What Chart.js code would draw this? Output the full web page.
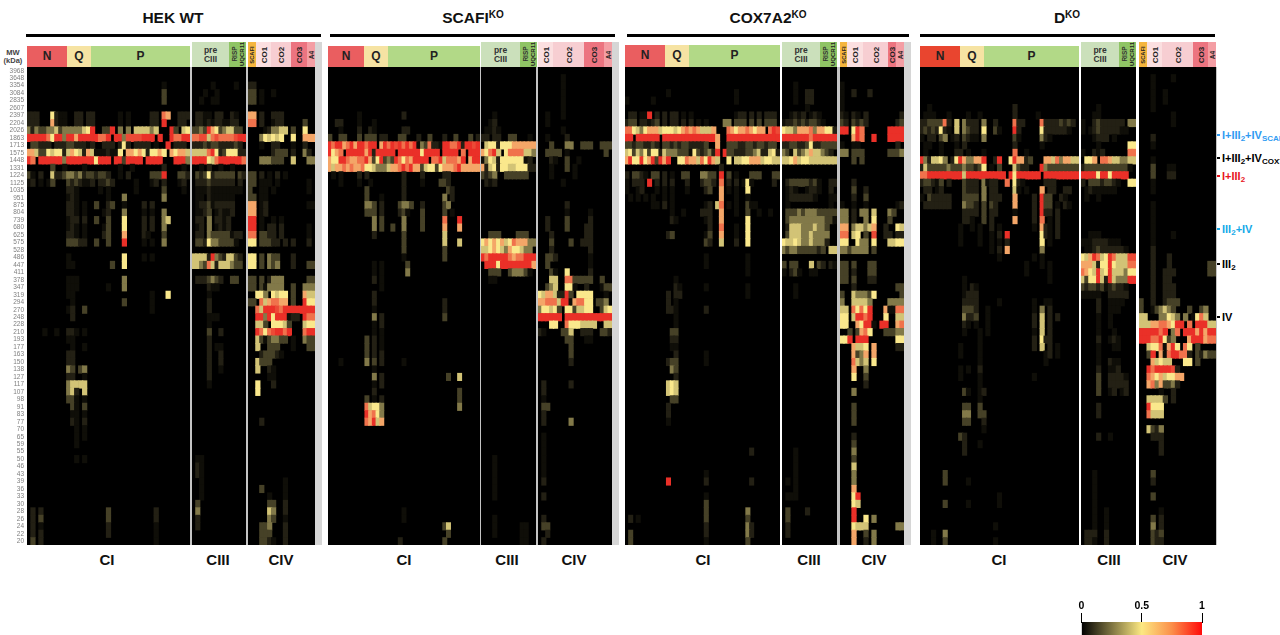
<!DOCTYPE html>
<html>
<head>
<meta charset="utf-8">
<script src="https://cdn.jsdelivr.net/npm/chart.js@4"></script>
<style>
html, body { margin: 0; padding: 0; background: #fff; overflow: hidden; }
#page { position: relative; width: 1280px; height: 635px; overflow: hidden; font-family: "Liberation Sans", Arial, sans-serif; }
#page div, #page canvas { position: absolute; }
.t { white-space: nowrap; transform: translate(-50%, -50%); text-align: center; line-height: 1.1; }
.v { white-space: nowrap; transform: translate(-50%, -50%) rotate(-90deg); }
.r { white-space: nowrap; font-weight: bold; font-size: 11px; transform: translateY(-50%); }
.r sub { font-size: 8px; vertical-align: -2px; line-height: 0; }
.t sup { font-size: 10px; vertical-align: 5px; line-height: 0; }
</style>
</head>
<body>
<div id="page"></div>
<script>
// MW ladder, one label per row of every heatmap
const mwLabels = ['3968','3648','3354','3084','2835','2607','2397','2204','2026','1863','1713','1575','1448','1331','1224','1125','1035','951','875','804','739','680','625','575','528','486','447','411','378','347','319','294','270','248','228','210','193','177','163','150','138','127','117','107','98','91','83','77','70','65','59','55','50','46','43','39','36','33','30','28','26','24','22','20'];

// intensity of each reading level used in the cell strings below (X = 1)
const levels = [0, 0.03, 0.07, 0.14, 0.26, 0.42, 0.5, 0.68, 0.82, 0.93];

// cells: "row col:levels col:levels", black cells left out
const hekCI = [
'2 34:1','3 34:3','4 34:3',
'6 0:222 6:6 7:211 12:22 15:22 23:1 25:1 31:22 34:87 38:222',
'7 0:222 6:7 7:211 12:22 15:22 23:1 25:1 31:22 34:X 38:22',
'8 0:4243344534444456X 19:33X 23:4 25:4 27:555545 36:X 37:3 39:56',
'9 0:XXXXX86XX4XX7XXXXX88X 22:XX49999XXX 33:X 36:X88XX',
'10 1:33222 7:222 10:3322 14:212 19:222 23:2 24:6 25:2 27:2222 32:1 35:X 37:222',
'11 0:775336566257652751112116 25:7767626676 36:76775',
'12 0:X80XXXXXX4XXXXXXX6XXX 22:XX3XXXX 30:XXXX 37:XXX4',
'13 6:3 9:1 14:1 23:1 26:1 34:2 39:1',
'14 0:31 3:2 6:5 7:223443 13:4 14:2332 18:3 19:3 20:2 23:1 25:2 31:333 34:X 38:332',
'15 0:12 3:1 5:1 6:3 10:3232 14:1 15:12 18:2 19:23 21:2 27:1 31:12 34:2 38:12',
'16 10:22 12:1 18:1 20:1 27:1 34:3 39:1','17 10:12 12:1 20:1 24:4 34:4',
'18 10:221 14:1 17:3 20:23 24:1 29:2 31:2','19 10:221 14:1 19:12 24:4 29:1 31:1 34:4',
'20 10:122 14:2 17:3 20:3 24:6 29:2 31:2 34:45','21 10:121 14:1 19:13 24:6 29:2 31:2 34:4',
'22 10:221 14:1 19:23 24:7 29:2 30:1 34:3','23 10:3332 14:2 17:3 20:3 24:X 29:1 31:1 34:4',
'25 10:1 24:6 29:1 31:1','26 10:11 21:3 24:6','28 10:111 24:4','29 10:11 12:1 20:1 24:4',
'30 10:11 31:1 35:6','31 11:1 24:3 31:1','32 10:12 14:3 31:1','33 11:2',
'35 4:1 7:1 10:221 14:1','36 10:11','37 11:1 14:1','38 10:22','39 10:22','40 10:43 13:34','41 10:22 14:1',
'42 10:45531 13:5 14:5','43 10:45 12:2 14:5','44 10:33 12:1 14:1','45 11:3 12:1 14:3','46 11:1 12:1 14:1',
'47 11:2 12:1 14:2','48 12:1 14:1','49 12:1 14:1','50 12:1','52 12:1 14:1',
'59 1:2 3:2 20:3 32:2','60 1:2 3:3 20:3 32:2','61 1:2 3:1 20:2 32:1','62 1:2 3:2 20:2 32:1','63 1:3 3:2 32:1'
];
const hekCIII = [
'2 5:1 11:1','3 3:1 6:1','4 2:1 5:1 6:1',
'6 1:221 4:1 6:22 10:21','7 1:221 4:2 5:1 6:22 8:1 9:1 10:22','8 0:3343X76345533','9 0:889958988889XX',
'10 0:2223233222232','11 0:55558X62366622','12 0:XXXX658XXXXXX8','13 2:1 4:2 7:1 10:1',
'14 1:3236233333 12:32','15 1:2223222222 12:2','16 1:111 4:2 5:11111111','17 1:11 4:2 5:1 6:1 7:1 8:1 9:1 10:1',
'18 1:122 4:3 5:1 6:2 7:2 8:2 9:2 10:2','19 1:112 4:3 6:1 7:2 8:1 9:1 10:2','20 1:22 4:4 6:2 7:2 8:1 9:2',
'21 1:1 2:2 4:4 6:1 7:2 8:1 9:2','22 1:2 2:2 4:4 5:3 6:3 7:3 8:3 9:3 10:1 11:2 12:2',
'23 1:33 3:2 4:6 5:4 6:4 7:3 8:3 9:3 10:3 11:1','25 0:55552X4325532','26 0:5543852555433',
'28 1:2223432 10:33','29 4:2 5:1 6:1','30 4:1','31 4:2','32 4:2','33 4:1 5:1 6:1','34 4:1','35 4:3 7:2','36 4:2',
'37 4:2 6:1 7:1','38 4:2 7:2','39 4:2 7:2','40 4:2 7:1','41 4:2','42 4:1',
'52 1:11','53 1:21','54 1:21','55 2:1','56 2:1','57 2:1','58 1:3','59 1:4','60 1:2','61 1:2'
];
const hekCIV = [
'2 0:22','3 0:33 3:1 6:1','4 0:33 3:1',
'6 0:77 3:2 6:222','7 0:88 3:2 6:122 14:3','8 4:1 5:2 6:44 8:55 11:3 14:6','9 3:465656 11:6 14:777',
'10 3:1 6:22 11:1 14:2','11 6:233 9:3 11:2 14:4 15:2','12 3:444 6:333 11:5 15:44',
'14 0:33 3:2 5:1 7:2 9:1','15 0:33 3:1 4:1 5:1 7:1 15:1','16 0:3 3:1 4:1 6:1 15:1','17 0:33 3:1 4:1',
'18 0:77 3:12 15:11','19 0:77 3:12','20 0:XX 3:1 6:1 8:1','21 0:XX 3:1 5:2 6:2 8:2 15:1',
'22 0:88 3:33 5:22 6:2 8:2 15:1','23 0:66 3:333 6:22 9:2 11:2 15:2',
'25 0:66 3:3 5:4 6:3 7:3 11:2','26 0:66 3:3 5:4 6:3 7:4 11:2 15:33',
'28 0:33 3:3 5:2 6:44 8:4 15:33','29 0:33 3:3 4:1 5:4 6:4 7:4 8:4 11:3 14:4 15:44',
'30 2:66 4:4 6:6 7:5 8:6 9:6 11:3 14:7 15:55','31 0:33 3:8 4:5 5:7 6:8 7:8 8:7 9:7 11:3 14:X 15:66',
'32 2:85XXX98XXXXXXXX','33 2:XX4X6XXX 10:1 11:22 14:X 15:88','34 2:553 6:6 7:6 8:6 9:5 10:3 14:5 15:66',
'35 2:X86 5:8 6:9 7:X 8:X 9:8 10:X 14:8 15:XX','36 2:5 3:3 4:1 5:3 6:44 8:3 9:3 11:1 14:4 15:33',
'37 2:5 5:3 6:3 7:3 11:1 15:33','38 3:2 4:3 5:3 6:3 7:2 8:1','39 2:5 3:3 4:3 5:3','40 2:5 5:2 6:1','41 5:1 6:1',
'42 2:6 6:2','43 2:6','47 3:2','55 9:1','56 3:3 9:1','57 5:1 9:1','58 5:3 6:3 9:2','59 5:5 6:4 9:2','60 5:4 6:3 9:1',
'61 3:334 9:2','62 3:333 9:2','63 3:3 4:3 5:2 6:1 9:2'
];

const scafiCI = [
'6 8:1 20:2','7 2:22 8:1 12:1','8 3:1 8:2 11:2 12:1 20:22',
'9 0:3 3:33 8:3 10:333 14:22 19:33 24:2 27:3 31:2 34:3 38:3 40:2',
'10 0:X8XX78X7XX8XX 14:7X8X9 19:X8X8X 24:1438221 31:XX88X2XX9X',
'11 0:X6780XXXXX7X2XXXXX0XXXXXX6XXXX 31:XXXX 36:8 38:XXX',
'12 0:766XX87788X736X 15:343 18:X8687XXXX 28:88X5 32:888 35:7 36:X 38:7XX',
'13 0:7577878778665444577 19:8X8X77 25:3566 29:367778X77777',
'14 1:1 3:1 8:2 10:2 20:2 25:2 31:22','15 3:1 8:1 11:1 20:2 25:1 30:33 32:2','16 10:3 20:2 32:3 33:2',
'17 10:3 14:1 20:2 31:4 33:2','18 10:443 14:2 19:3443 25:2 31:3 32:4','19 10:333 14:2 19:2 20:3 21:1 25:3 31:3 33:1',
'20 12:4 14:3 20:4 25:3 31:8 35:X','21 12:4 14:3 17:3 20:4 25:3 31:7 35:7','22 12:2 20:3 31:5','23 20:3 31:5 35:5',
'24 20:3 31:3','25 20:1 31:3','26 12:1 14:1 21:3','27 12:1 14:1 21:4','28 12:2 14:1','29 14:1',
'30 12:2','31 12:2 31:2','32 12:1 31:2','33 12:4 14:2 31:3','34 12:1 14:2','35 12:1 14:1','36 10:3 12:2 14:1',
'37 10:3 12:2 14:1','38 10:3 12:2 14:2','39 3:1 10:4 12:3 14:2 20:1','40 12:1','41 12:4 14:2 32:3 35:5','42 12:1 14:2',
'43 12:2 35:3','44 10:3 12:1 14:2 35:3','45 10:8 11:5 12:6 13:6 14:4 35:4','46 10:X 11:7 12:8 13:6 14:4','47 10:8 11:7 12:X 13:5 14:7',
'59 20:1','60 20:1','61 31:3 32:5','62 32:3','63 19:2 31:3'
];
const scafiCIII = [
'6 3:1','7 2:1 3:2','8 1:1 2:1 3:2 4:1','9 0:22 3:22 7:3 8:3 12:1',
'10 1:566 4:2 5:66 7:6 8:7 9:7 10:7 11:7 12:7 13:7','11 0:76 2:8 3:X 4:5 6:6 7:8 8:8 9:8 10:8 11:5 12:5 13:4',
'12 0:1 1:4 2:6 3:5 4:2 5:6 6:6 7:6 8:6 9:6 10:6 11:1 12:2','13 0:7 1:2 2:5 3:6 4:2 5:6 6:6 7:5 8:5 9:6 10:6 11:6 12:2 13:2',
'14 0:3 1:2 2:3 3:4 6:3 7:3 8:3 9:3 10:3 11:3','15 1:2 2:1 3:2',
'22 2:333 9:333','23 0:67676756877744','24 0:5567654766544','25 0:X8XXXXX8788XXX','26 1:XXX6XXXXXXXX7','27 2:333 7:34443 12:1','28 2:1 3:1',
'52 3:1','53 3:1','54 3:1','55 3:1','56 3:1','57 3:1','60 3:1','61 3:1 10:11','62 3:1 10:11','63 10:11'
];
const scafiCIV = [
'1 6:1','2 6:1','3 6:1','4 6:1','5 6:1','6 2:1 6:1','7 2:1','8 6:1','9 2:1 7:2',
'10 3:3 7:44 11:333 16:3 17:33','11 2:3333 7:1 17:3','12 3:2 4:1 7:3 10:1','13 3:1 7:3 9:1','14 3:1 9:1','15 6:1',
'18 7:2','19 7:1 13:1','20 2:2 7:3 13:2','21 2:2 7:3 12:2 13:2','22 3:2 12:2 13:2','23 3:3 8:3 11:2 12:2 13:2','24 3:2 13:2',
'25 2:3 3:3 4:2 13:1','26 2:3 13:1','27 3:3 4:1 7:6 13:2','28 3:5 4:5 7:8 8:8 9:3 10:3 11:3 12:3 13:3 16:3',
'29 2:3 3:4 4:5 7:6 8:6 9:1 12:2 16:1 17:33','30 0:6577 4:5 5:2 6:2 7:X 8:3 10:6666 17:1',
'31 0:77888 5:5 6:X 7:X 8:1 9:7 10:8 11:8 12:6 13:6 15:3 16:3 17:4','32 0:4 1:6 2:6 3:5 4:6 5:3 7:6 8:6 9:3 10:5 11:5 12:6 13:6 16:3 17:5 18:6',
'33 0:XXXXXX 7:XXXXXXXXXXXX','34 3:66 7:8 8:6 9:6 10:6 11:5 12:5 13:5 14:5 17:55','35 0:2 1:1 6:3 7:3 8:5 11:2 12:2 13:2 16:3 17:3 18:2',
'36 7:3 8:3 12:1 13:1','37 8:3','38 8:3','39 8:2','42 1:2 8:2','43 1:2','44 1:1','45 1:3 2:3','46 1:2','47 1:2 8:4',
'49 1:1','50 1:1','51 1:1','52 1:1','53 1:1','54 1:1','55 1:2','57 1:2','60 1:2','61 1:3 2:3','62 2:2','63 1:2'
];

const coxCI = [
'3 11:1 29:1','4 0:1 7:1 29:1',
'6 1:22 4:1 5:1 6:X 8:2 10:2 12:22 15:1 17:1 29:1 30:22 33:2 35:2 37:222',
'7 0:233 4:22 6:1 7:2 8:3 10:2 12:22 15:2 17:2 19:1 21:1 26:44 29:3 30:33 33:3 35:3 37:333',
'8 0:886546777566656787875557 27:8767787677 38:8X9',
'9 0:XX 3:XXXXXX 10:XXXXXXXXXXXXXX 24:7 27:XXXXXXXXXXXXXX',
'10 0:3323322320332323322223 24:7 27:333223323 36:3233',
'11 0:563546366254443331632342X 26:X33222334522562',
'12 0:7X66X67X3X7X 14:66877586X75 27:6 29:556677 35:7 36:5 37:6 38:655',
'13 25:2','14 0:2 2:3 3:3 4:2 5:1 7:3 8:3 10:2 12:1 15:33 20:4 21:4 22:3 23:3 25:X 27:3 29:1 33:333 39:33',
'15 0:1 2:2 3:2 4:2 6:X 8:2 10:2 12:2 16:2 20:2 21:3 22:3 23:2 25:8 27:2 29:2 31:1 32:6 33:1 39:2',
'16 0:1 3:1 4:2 8:1 10:1 12:1 16:1 21:2 22:3 25:7 27:1 29:1 32:6','17 1:1 3:1 5:1 7:1 10:1 12:1 25:7 29:1 32:1',
'18 7:1 8:1 10:2 12:1 21:1 22:2 24:5 25:8 27:1 29:1 32:3 33:1 34:1','19 12:1 15:1 20:2 21:2 22:2 25:7 29:1 32:3 35:1 38:1',
'20 12:2 13:1 21:1 22:2 25:7 32:6','21 22:2 25:8 29:1 32:6','22 11:2 12:3 21:1 22:3 25:7 29:1 32:6','23 21:3 22:2 25:5 29:2 32:6',
'25 21:1 32:1','26 21:1 32:1','27 32:1','28 13:1','29 13:2 14:1 21:1 32:1','30 11:2 13:2 14:2 32:1','31 11:2 13:1','32 11:2 12:2 13:1 21:2',
'33 13:1','34 13:1','35 12:3 13:3','36 12:2 13:2','37 12:1 13:1','38 13:2 21:1','39 11:2 12:3 13:3 21:1','40 12:4 13:3','41 13:2',
'42 11:5 12:6 13:5','43 11:5 12:6 13:5','44 12:3 13:3','45 11:2','46 11:2','47 11:1',
'51 33:2','54 21:1','55 11:X 21:2 33:2','57 21:1','58 21:3','59 21:3 32:4','60 1:2 3:1 21:3 32:3','61 21:2 32:4 33:2','62 1:3 21:2 32:4 33:2','63 1:3 21:1 32:3'
];
const coxCIII = [
'2 3:1','3 3:1 6:2 7:2','4 3:1 6:2 7:2','5 6:1','6 2:1 3:2 4:1 5:2 7:1 8:2 9:1','7 0:1 1:2 2:2 3:3 4:2 5:3 6:2 7:3 8:3 9:2 10:1',
'8 0:65547778477662','9 0:XXXXXXX8XXXXXX','10 0:22332 5:2 6:3 7:6 8:2 9:2 10:3 11:3 12:3 13:3','11 0:4 1:3 2:1 3:5 4:3 5:4 6:5 7:7 8:5 9:5 10:4 11:3 12:2',
'12 0:55675665555555','15 1:2 2:3 3:3 4:3 5:3 6:3 7:2 8:3 9:1 12:2 13:2','16 1:1 2:2 3:1 6:1 7:2 8:2 9:1 12:2','17 1:1 2:2 3:2 4:2 5:2 6:2 7:2 8:1 12:1 13:1','18 1:1 12:1',
'19 1:3 2:3 3:3 4:4 5:3 6:4 7:4 8:4 9:3 10:3 11:3 12:3 13:3','20 1:3 2:4 3:4 4:4 5:4 6:4 7:4 8:4 9:4 10:4 11:3 12:3 13:1',
'21 1:2 2:5 3:5 4:5 5:4 6:4 7:4 8:5 9:4 10:4 11:3','22 1:3 2:5 3:5 4:5 5:4 6:4 7:5 8:4 9:4 10:4 11:4',
'23 0:6 1:5 2:5 3:6 4:5 5:4 6:4 7:5 8:4 9:4 10:4 11:2','24 0:4 1:3 2:4 3:4 4:3 5:3 6:3 7:3 8:3 9:2 10:3 12:55',
'26 0:3 2:3 3:3 7:5 9:3 10:2 12:2 13:1','27 0:1 2:2 3:3 4:1 7:1 8:1','29 3:1','30 3:1',
'51 3:1','52 3:1','53 3:1','54 3:1','55 1:1 3:1','56 3:1','57 1:1 2:1 3:1','59 1:3 6:2','60 1:3','61 1:2','62 1:2'
];
const coxCIV = [
'2 0:1','3 0:1 3:2 7:2','4 0:1','5 0:1','6 0:2 1:1 3:2 4:1 6:2 15:2','7 0:3 1:2 3:3 4:2 5:3 6:2 14:2 15:3','8 0:XX 3:6 4:X 5:8 12:XXXX','9 3:7 4:X 5:8 8:X 12:XXXX',
'10 0:1 3:1 4:1 14:2','11 0:44 3:3 4:3 5:3 12:3 13:3 14:3 15:4','12 3:3 5:3','15 3:2','16 3:3 6:2','17 3:2 6:3','18 0:1 3:1 6:1 14:1 15:2',
'19 0:44 3:2 5:4 6:4 8:5 12:4 13:3','20 0:44 3:2 6:4 8:6 12:3','21 0:77 3:4 4:5 5:5 6:4 7:5 8:7 11:2 14:6 15:5','22 0:88 3:5 4:6 6:3 8:9 11:2 12:2 14:2 15:2',
'23 0:66 4:6 5:4 6:4 8:6 12:5 13:5 14:6 15:6','24 0:44 2:3 3:4 4:4 5:4 6:4 8:3','26 0:33 3:3 7:3 8:3','27 0:33 3:2 7:3 8:3','28 0:33 3:3 7:2 8:2','29 3:2 14:33',
'30 0:3 3:5 4:4 5:4 6:4 7:3 8:6 15:3','31 0:4 3:5 4:5 5:5 6:5 7:4 12:4 13:4 14:4 15:4','32 0:55 3:8 4:6 5:8 6:6 7:X 11:7 12:1 13:1 14:8 15:8',
'33 0:66 3:5 4:X 5:X 6:8 7:X 11:6 14:5 15:5','34 0:66 4:7 5:6 6:X 7:X 8:1 10:XX 14:7 15:8','35 2:3 4:3 5:7 6:8 7:6 11:3 12:3 13:3 14:4 15:4',
'36 0:66 2:X 4:XXX 14:66','37 3:7 4:5 5:5 6:6 8:7 14:2 15:2','38 3:7 4:3 5:4 6:7 8:7','39 3:8 4:5 5:4 6:5 8:6','40 3:7 6:4','41 3:6 6:3','42 6:2','43 3:4',
'45 3:3','46 3:3','47 3:3','49 3:2','50 3:3','51 3:4','52 3:3','53 3:5','54 3:4','55 3:4','56 3:7','57 3:6 4:X','58 3:6 4:5','59 3:X','60 3:X 6:6 8:4',
'61 3:6 4:5 5:5 6:5 14:44','62 3:7 6:3 8:4','63 3:7 6:2 8:4'
];

const dkoCI = [
'5 2:1 24:2','6 1:1 2:1 3:1 7:1 12:1 15:1 24:2 30:1',
'7 0:2 1:2 2:3 3:3 4:3 5:3 6:8 7:2 9:5 11:4 12:2 13:2 14:2 16:4 19:2 24:8 25:2 26:2 31:8 32:2 33:2 34:2 35:2 36:3 37:2 38:3 39:2',
'8 0:2 1:3 2:2 3:3 4:2 5:6 6:2 7:1 9:5 11:4 12:3 13:2 14:2 16:6 19:3 20:1 24:X 25:2 31:6 32:2 33:2 34:2 35:2 36:2 37:2 38:1',
'9 0:1 2:2 3:2 5:3 6:4 8:1 9:2 11:3 12:2 13:1 14:1 16:4 24:3 25:1 31:4 32:2 33:1','10 1:1 2:1 5:1 9:1 11:2 24:2 31:1','11 1:1 5:1 9:2 10:2 12:1 16:1 24:8 27:1',
'12 0:X4 2:2 3:5 4:5 5:6 6:4 8:2 9:6 10:X 11:7 12:4 13:4 14:7 15:7 16:X 19:2 20:X 23:6 24:X 25:7 26:7 27:2 28:3 32:7 33:7 34:5 35:8 36:4 37:7 38:7 39:5 40:5',
'13 0:2 1:5 2:3 3:3 4:3 5:3 6:3 7:4 8:3 9:3 10:3 11:4 12:3 13:3 14:2 15:3 16:6 18:1 20:3 24:5 25:3 26:2 27:2 31:X 32:4 33:3 34:3 35:3 36:3 37:3 38:3 39:3 40:3',
'14 0:88XXXXXXXXX5XXXXXXXXXX0X6XXXXXX0XXXXXXXXX',
'15 0:2 1:3 2:3 3:2 4:1 5:3 7:2 11:3 12:2 13:2 14:2 16:4 17:1 18:2 19:2 22:8 24:6 25:2 26:1 32:2 33:2 34:2',
'16 1:2 2:2 4:1 5:2 11:3 12:2 13:2 14:2 16:4 18:2 19:2 24:5 25:1 27:1 31:7 33:2 34:2 37:2 38:2',
'17 0:1 2:3 3:2 4:2 5:2 6:2 7:2 11:3 12:3 13:3 14:3 16:4 18:2 19:2 20:2 24:7 29:2 31:X 32:3 33:3 36:2 37:1',
'18 1:2 2:2 3:2 4:2 5:2 6:2 7:2 11:4 12:3 13:3 14:2 16:3 18:3 19:2 24:7 29:2 31:X 32:3 33:3 35:1 37:2 38:1','19 11:2 12:2 13:2 14:2 16:3 18:2 19:2 24:1 29:2 31:X 32:2 33:2 35:2',
'20 11:2 12:2 13:1 16:3 18:2 24:7 29:2 31:8 33:1 35:2','21 10:1 13:1 15:1 18:2 20:1 29:1 31:7 32:2 33:1 35:2','22 10:1 15:1 18:1 20:2 22:X 31:6 32:2 33:1 35:2',
'23 10:1 15:1 18:1 20:1 22:2 31:6 33:1','24 18:1 20:2 22:7 31:4','25 20:1 29:1 31:1','26 27:1 31:1 33:1','27 27:1 33:1','28 11:1 33:1','29 11:1 13:2 14:1','30 11:1 12:2 13:2 14:2',
'31 11:2 12:2 13:2 14:2 20:1 29:1 32:1 33:1','32 11:3 12:3 13:3 14:2 17:1 29:1 31:4 33:2','33 11:4 12:2 13:2 14:3 17:1 29:2 31:5 33:2 35:2','34 11:2 12:1 14:1 17:1 29:2 31:5 33:2',
'35 11:1 15:1 17:1 29:1 31:5 33:2','36 15:1 29:2 31:6 32:2 33:2','37 10:1 15:1 29:2 31:5 33:2 35:1','38 10:1 15:1 32:1 33:2 35:1','39 15:1 32:1','40 10:1 12:1 15:2','41 10:1 15:1 29:1','42 15:1',
'43 11:3 12:1 15:1 16:2','44 15:1','45 11:3 12:3 15:3','46 11:4 12:4 15:3 16:3','47 11:3 12:3 16:2','48 16:1','49 10:3 11:2','50 11:2 15:1','51 11:2',
'54 6:3','55 6:3 12:1','57 20:1','58 6:3 12:1 20:1','61 19:1','62 3:1 6:4','63 3:1 6:3 19:1'
];
const dkoCIII = [
'5 4:1','6 3:1 4:1','7 0:1 3:2 4:3 5:2 6:2 7:2 8:2 9:2 10:2 12:44','8 0:1 2:1 3:2 4:3 5:2 6:2 7:2 8:2 9:2 10:1 11:1','9 3:1 4:2 5:2 6:2 8:1','10 4:1 12:66','11 0:1 3:2 4:1 5:2 12:88',
'12 1:667 5:88 7:7 8:5 9:5 10:4 11:4 12:55','13 0:2 1:3 2:3 3:3 4:3 5:3 6:3 7:3 8:3 9:3 10:3 11:3 12:1','14 0:XXXX6XX6XXXX','15 0:2 2:3 3:3 4:3 5:2 6:3 7:3 8:2 9:1 12:66',
'16 1:1 2:2 3:1 4:1 5:1 6:1 7:1 8:1','17 1:1 4:1','22 2:1 3:1 4:1','23 0:1 1:1 2:1 3:2 4:2 5:2 6:2 7:1 8:1 9:1','24 1:1 2:1 3:2 4:3 5:2 6:2 7:2 8:2 9:2 10:2 11:1',
'25 0:657X856X855599','26 0:7775266X655588','27 0:8765X56X555466','28 0:5366X52X5444XX','29 0:3 1:2 2:3 3:3 4:2 5:3 6:1 7:2 8:3 9:2 10:2 11:1',
'30 0:1 1:1 2:1 3:1 4:1 7:2 8:2 9:2 10:2 11:2','31 4:2 7:1 8:1 9:1 10:1','32 4:2 7:1 8:1 9:1','33 4:1 7:1','34 4:1 7:1','35 4:1 8:1','36 4:2 7:1 8:2 9:1','37 4:1 8:1 9:1','38 4:1',
'39 4:1 7:2 8:1 9:1','40 4:2 7:1 8:1 9:2','41 4:3 7:2 8:2 9:2 10:2 11:1','42 4:3 7:2 8:2 9:2 10:2 11:2','43 4:3 7:1 8:2 10:1 11:2','45 4:2','46 4:2','49 4:2 7:1',
'54 3:1','55 3:1','56 3:1','57 3:1','58 3:1','59 3:1 6:1','60 3:1 6:1','61 3:1 6:1','62 1:2 2:2 3:2 6:2','63 1:2 2:2 3:1 6:2'
];
const dkoCIV = [
'1 3:1 8:1','2 3:1','3 3:1 6:1','4 3:1 6:1','5 3:1','6 8:1','7 8:1','9 3:2','10 3:1','12 3:1','13 3:3 7:1 8:1','14 3:3 7:2 8:2','15 3:1','16 3:1',
'18 3:1','19 3:1','20 3:1','21 3:1','22 3:1 8:1','23 3:1','24 3:2','25 3:2 7:2','26 3:2 7:2 17:33','27 3:2 6:2 7:2 8:2 17:33','28 3:2 6:2 7:2','29 3:2 6:2 7:2 8:2','30 3:2 6:2 7:2 8:2',
'31 0:3 3:2 6:2 7:3 8:3 9:3','32 0:3 3:1 4:3 5:4 6:5 7:4 8:3 12:3 15:3 16:4','33 0:55 5:4 6:4 7:6 8:5 9:4 11:4 13:1 14:6 15:8 16:5',
'34 0:555 3:7 4:7 5:8 6:8 7:7 8:6 9:X 10:X 12:8 14:XX 16:X 17:55','35 0:XXXXX8X 8:4 9:8 11:XX 13:X 14:7 15:X 16:7 17:XX','36 0:XXX88X6 7:3 8:4 12:7 13:XXX 16:7 17:88',
'37 2:566 5:8 6:1 7:7 8:X 9:6 11:8 12:6 14:3','38 2:3 3:X 5:7 6:1 7:8 8:X 9:X 10:8 11:8 12:2 14:3 15:2 16:4 17:33','39 3:7 4:5 5:6 6:5 7:5 11:66 14:3',
'40 2:X 3:8 4:X 5:X 6:X 7:X 8:9 9:2','41 2:8 3:7 4:6 5:7 6:5 7:6 8:6 9:7 10:7','42 2:7 3:8 4:4 5:7 6:3 7:3 8:4 9:2','43 5:1 8:2','44 2:5 3:5 4:5 5:5 6:3 8:2','45 2:X 3:6 4:6 5:6','46 2:8 3:5 4:5 5:5',
'48 2:5 3:3 4:2 5:4','49 3:2 4:2 5:2','50 5:2','51 5:2','54 3:3','55 3:2','57 3:3','59 5:1','60 3:3 5:2','61 3:4 5:2','62 3:3 4:2 5:3','63 3:3 4:2 5:2'
];

const barTicks = [0, 0.5, 1];

// pixel layout of the figure: [x, width, columns, cells]
const panels = [
  [27, 163, 41, hekCI], [192, 54, 14, hekCIII], [248, 67, 17, hekCIV],
  [328, 152, 41, scafiCI], [481, 55, 14, scafiCIII], [538, 74, 19, scafiCIV],
  [625, 155, 41, coxCI], [782, 55, 14, coxCIII], [840, 64, 16, coxCIV],
  [920, 159, 41, dkoCI], [1081, 55, 14, dkoCIII], [1139, 77, 19, dkoCIV]
];
const PANEL_TOP = 67, PANEL_H = 478;

const page = document.getElementById('page');

function box(x, y, w, h, color) {
  const d = document.createElement('div');
  d.style.cssText = `left:${x}px;top:${y}px;width:${w}px;height:${h}px;background:${color}`;
  page.appendChild(d);
}
function text(cls, x, y, html, css) {
  const d = document.createElement('div');
  d.className = cls;
  d.innerHTML = html;
  d.style.cssText = `left:${x}px;top:${y}px;${css || ''}`;
  page.appendChild(d);
}

// colour map of the scale bar: black, pale yellow at .5, red at 1
function heat(v) {
  const lo = v < 0.5 ? [0, 0, 0] : [250, 232, 140];
  const hi = v < 0.5 ? [250, 232, 140] : [234, 48, 40];
  const t = v < 0.5 ? v / 0.5 : (v - 0.5) / 0.5;
  const c = lo.map((a, i) => Math.round(a + (hi[i] - a) * t));
  return `rgb(${c[0]},${c[1]},${c[2]})`;
}

function readCells(rows, cols) {
  const out = [];
  rows.forEach(line => {
    const parts = line.split(' ');
    const row = +parts[0];
    parts.slice(1).forEach(seg => {
      const [start, digits] = seg.split(':');
      [...digits].forEach((ch, i) => {
        const col = +start + i;
        const v = ch === 'X' ? 1 : levels[+ch];
        if (v > 0 && col < cols) out.push({ x: col, y: [row, row + 1], v: v });
      });
    });
  });
  return out;
}

function drawPanel(p, index) {
  const [x, w, cols, rows] = p;
  const hasAxis = index === 0;
  const left = hasAxis ? 0 : x;
  const width = hasAxis ? x + w : w;
  const canvas = document.createElement('canvas');
  canvas.width = width;
  canvas.height = PANEL_H;
  canvas.style.cssText = `left:${left}px;top:${PANEL_TOP}px;width:${width}px;height:${PANEL_H}px`;
  page.appendChild(canvas);
  new Chart(canvas, {
    type: 'bar',
    data: {
      datasets: [{
        data: readCells(rows, cols),
        backgroundColor: c => heat(c.raw ? c.raw.v : 0),
        barThickness: w / cols + 0.6,
        borderWidth: 0
      }]
    },
    options: {
      responsive: false,
      animation: false,
      events: [],
      layout: { padding: 0 },
      plugins: {
        legend: { display: false },
        tooltip: { enabled: false }
      },
      scales: {
        x: { type: 'linear', min: -0.5, max: cols - 0.5, offset: false, display: false },
        y: {
          type: 'linear', min: 0, max: 64, reverse: true, display: hasAxis,
          grid: { display: false, drawTicks: false },
          border: { display: false },
          afterBuildTicks: s => { s.ticks = mwLabels.map((_, i) => ({ value: i + 0.5 })); },
          afterFit: s => {
            if (hasAxis) s.width = x;
            s.paddingTop = 0;
            s.paddingBottom = 0;
          },
          ticks: {
            autoSkip: false, padding: 3, color: '#808080',
            font: { size: 6.5, family: 'Liberation Sans' },
            callback: (v, i) => mwLabels[i]
          }
        }
      }
    },
    plugins: [{
      id: 'panelBg',
      beforeDatasetsDraw(chart) {
        const a = chart.chartArea, c = chart.ctx;
        c.save();
        c.fillStyle = '#000';
        c.fillRect(a.left, a.top, a.right - a.left, a.bottom - a.top);
        c.restore();
      }
    }]
  });
}

// grey strips behind and between the heatmaps
[[190, 2], [246, 2], [480, 1.5], [536, 2], [836, 4]].forEach(g => box(g[0], 67, g[1], 478, '#c4c4c4'));
box(315, 42, 7, 503, '#d6d6d6');
box(612, 42, 7, 503, '#d6d6d6');
box(904, 42, 7, 503, '#d6d6d6');
box(1216, 67, 1, 478, '#c4c4c4');

panels.forEach(drawPanel);

// group titles and their rules
const titles = [
  [173, 26, 295, 'HEK WT'], [473, 330, 285, 'SCAFI<sup>KO</sup>'],
  [768, 627, 282, 'COX7A2<sup>KO</sup>'], [1067, 920, 295, 'D<sup>KO</sup>']
];
titles.forEach(t => {
  text('t', t[0], 18, t[3], 'font-weight:bold;font-size:15.5px;color:#111');
  box(t[1], 34, t[2], 3, '#000');
});

// subunit header strips
const NQP = [
  [27, 67, 91, 190, '#ea5e60', 46], [328, 364, 388, 480, '#ea5e60', 46],
  [625, 665, 689, 780, '#ea5e60', 45], [920, 960, 984, 1079, '#e9452f', 46]
];
NQP.forEach(h => {
  const top = h[5], ht = 67 - top;
  box(h[0], top, h[1] - h[0], ht, h[4]);
  box(h[1], top, h[2] - h[1], ht, '#f6e3a3');
  box(h[2], top, h[3] - h[2], ht, '#b2d987');
  text('t', (h[0] + h[1]) / 2, top + ht / 2, 'N', 'font-weight:bold;font-size:12px;color:#222');
  text('t', (h[1] + h[2]) / 2, top + ht / 2, 'Q', 'font-weight:bold;font-size:12px;color:#222');
  text('t', (h[2] + h[3]) / 2, top + ht / 2, 'P', 'font-weight:bold;font-size:12px;color:#222');
});
const preCIII = [[192, 229, 246], [481, 520, 537], [782, 820, 837], [1081, 1119, 1136]];
preCIII.forEach(h => {
  box(h[0], 42, h[1] - h[0], 25, '#cbe0bb');
  box(h[1], 42, h[2] - h[1], 25, '#8fc465');
  text('t', (h[0] + h[1]) / 2, 55, 'pre<br>CIII', 'font-weight:bold;font-size:8.5px;color:#333');
  text('v', h[1] + 5, 54, 'RISP', 'font-weight:bold;font-size:6.5px;color:#333');
  text('v', h[1] + 13, 54, 'UQCR11', 'font-weight:bold;font-size:6px;color:#222');
});
// [start, end, label, colour, font size]
const civHeaders = [
  [248, 256, 'SCAFI', '#f5b53e', 5.8], [256, 271, 'CO1', '#fbdfe0', 8], [271, 291, 'CO2', '#f7ced2', 8], [291, 307, 'CO3', '#ec7480', 8], [307, 315, 'A4', '#f49ea4', 6.5],
  [538, 553, 'CO1', '#fbdfe0', 8], [553, 584, 'CO2', '#f7ced2', 8], [584, 604, 'CO3', '#ec7480', 8], [604, 612, 'A4', '#f49ea4', 6.5],
  [840, 847, 'SCAFI', '#f5b53e', 5.8], [847, 863, 'CO1', '#fbdfe0', 8], [863, 888, 'CO2', '#f7ced2', 8], [888, 896, 'CO3', '#ec7480', 8], [896, 904, 'A4', '#f49ea4', 6.5],
  [1139, 1147, 'SCAFI', '#f5b53e', 5.8], [1147, 1162, 'CO1', '#fbdfe0', 8], [1162, 1193, 'CO2', '#f7ced2', 8], [1193, 1208, 'CO3', '#ec7480', 8], [1208, 1216, 'A4', '#f49ea4', 6.5]
];
civHeaders.forEach(h => {
  box(h[0], 42, h[1] - h[0], 25, h[3]);
  text('v', (h[0] + h[1]) / 2, 54.5, h[2], `font-weight:bold;font-size:${h[4]}px;color:#222`);
});

// MW header
text('t', 13, 56.5, 'MW<br>(kDa)', 'font-weight:bold;font-size:7.5px;color:#444');

// complex names under the panels
const complexNames = ['CI', 'CIII', 'CIV'];
const complexX = [[107, 218, 281], [404, 507, 574], [703, 809, 874], [999, 1109, 1175]];
complexX.forEach(g => g.forEach((x, i) => {
  text('t', x, 560, complexNames[i], 'font-weight:bold;font-size:15px;color:#111');
}));

// band annotations on the right
const bands = [
  [135, 'I+III<sub>2</sub>+IV<sub>SCAFI</sub>', '#2f9bf2'],
  [158, 'I+III<sub>2</sub>+IV<sub>COX7A</sub>', '#000'],
  [176, 'I+III<sub>2</sub>', '#e8141c'],
  [229, 'III<sub>2</sub>+IV', '#17a9e8'],
  [264, 'III<sub>2</sub>', '#000'],
  [317, 'IV', '#000']
];
bands.forEach(b => {
  box(1217, b[0] - 1, 3, 2, b[2]);
  text('r', 1222, b[0], b[1], `color:${b[2]}`);
});

// colour scale
const barCanvas = document.createElement('canvas');
barCanvas.width = 160;
barCanvas.height = 37;
barCanvas.style.cssText = 'left:1060px;top:598px;width:160px;height:37px';
page.appendChild(barCanvas);
new Chart(barCanvas, {
  type: 'bar',
  data: {
    labels: [''],
    datasets: [{
      data: [[barTicks[0], barTicks[2]]],
      barPercentage: 1,
      categoryPercentage: 1,
      borderWidth: 0,
      backgroundColor: c => {
        const a = c.chart.chartArea;
        if (!a) return '#000';
        const g = c.chart.ctx.createLinearGradient(a.left, 0, a.right, 0);
        g.addColorStop(0, '#000');
        g.addColorStop(0.5, '#fce882');
        g.addColorStop(0.75, '#fb8f4a');
        g.addColorStop(1, '#ff0a0a');
        return g;
      }
    }]
  },
  options: {
    indexAxis: 'y',
    responsive: false,
    animation: false,
    events: [],
    layout: { padding: { left: 21.5, right: 18, top: 0, bottom: 0 } },
    plugins: { legend: { display: false }, tooltip: { enabled: false } },
    scales: {
      y: { display: false, offset: true },
      x: {
        position: 'top', min: 0, max: 1,
        afterBuildTicks: s => { s.ticks = barTicks.map(v => ({ value: v })); },
        afterFit: s => { s.height = 24; },
        grid: { drawOnChartArea: false, drawTicks: true, tickLength: 9, color: '#000', tickWidth: 1 },
        border: { display: true, color: '#000' },
        ticks: {
          color: '#000', padding: 1, maxRotation: 0,
          font: { size: 10.5, weight: 'bold', family: 'Liberation Sans' },
          callback: v => String(v)
        }
      }
    }
  }
});
</script>
</body>
</html>
